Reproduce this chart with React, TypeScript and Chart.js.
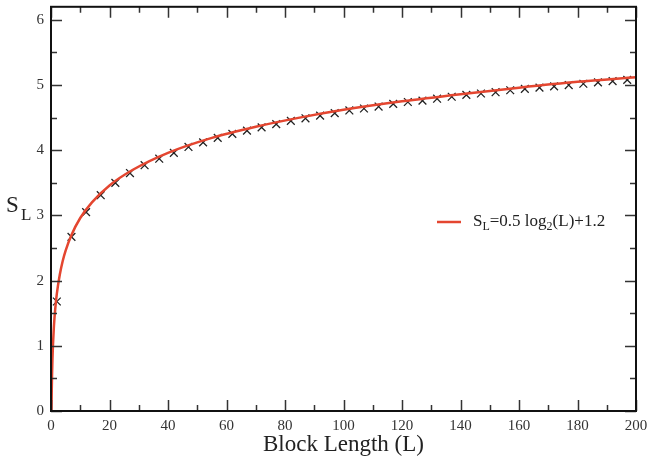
import React, { useEffect, useRef } from "react";
import { Chart, registerables } from "chart.js";

Chart.register(...registerables);

// Numerical data points (block length L, entropy S_L)
const markerL = [2, 7, 12, 17, 22, 27, 32, 37, 42, 47, 52, 57, 62, 67, 72, 77, 82, 87, 92, 97,
  102, 107, 112, 117, 122, 127, 132, 137, 142, 147, 152, 157, 162, 167, 172, 177, 182, 187, 192, 197];
const markerS = [1.68, 2.67, 3.05, 3.31, 3.5, 3.65, 3.77, 3.87, 3.96, 4.05, 4.12, 4.19, 4.25, 4.3, 4.35,
  4.4, 4.45, 4.49, 4.53, 4.57, 4.61, 4.64, 4.67, 4.71, 4.74, 4.76, 4.79, 4.82, 4.85, 4.87, 4.89, 4.92,
  4.94, 4.96, 4.98, 5.0, 5.02, 5.04, 5.06, 5.08];

// Fit curve
const curveL = [0.17, 0.25, 0.5, 1, 1.5, 2, 3, 4, 5, 7, 10, 14, 20, 28, 40, 55, 70, 85, 100, 120, 140, 160, 180, 200];
const curveS = [0.0, 0.3, 0.8, 1.3, 1.59, 1.8, 2.09, 2.3, 2.46, 2.7, 2.96, 3.2, 3.46, 3.7, 3.96, 4.19, 4.36,
  4.5, 4.62, 4.75, 4.86, 4.96, 5.05, 5.12];

const xTicks = [0, 20, 40, 60, 80, 100, 120, 140, 160, 180, 200];
const yTicks = [0, 1, 2, 3, 4, 5, 6];
const xMinorStep = 10;
const yMinorStep = 0.5;

const SERIF = "'Liberation Serif', 'DejaVu Serif', serif";
const RED = "rgb(228,70,48)";

const framePlugin = {
  id: "frame",
  afterDraw(chart: any) {
    const ctx = chart.ctx;
    const { left, right, top, bottom } = chart.chartArea;
    const xs = chart.scales.x;
    const ys = chart.scales.y;
    ctx.save();
    ctx.strokeStyle = "#333";
    ctx.lineWidth = 1.5;
    for (let v = xs.min; v <= xs.max + 1e-9; v += xMinorStep) {
      const px = Math.round(xs.getPixelForValue(v)) + 0.5;
      const len = xTicks.includes(v) ? 11 : 6;
      ctx.beginPath();
      ctx.moveTo(px, bottom);
      ctx.lineTo(px, bottom - len);
      ctx.moveTo(px, top);
      ctx.lineTo(px, top + len);
      ctx.stroke();
    }
    for (let v = 0; v <= 6 + 1e-9; v += yMinorStep) {
      const py = Math.round(ys.getPixelForValue(v)) + 0.5;
      const len = yTicks.includes(v) ? 11 : 6;
      ctx.beginPath();
      ctx.moveTo(left, py);
      ctx.lineTo(left + len, py);
      ctx.moveTo(right, py);
      ctx.lineTo(right - len, py);
      ctx.stroke();
    }
    ctx.strokeStyle = "#111";
    ctx.lineWidth = 2;
    ctx.strokeRect(left, top, right - left, bottom - top);

    // y axis title S_L
    ctx.fillStyle = "#222";
    ctx.textBaseline = "alphabetic";
    ctx.textAlign = "left";
    ctx.font = `23px ${SERIF}`;
    ctx.fillText("S", 6, 212);
    ctx.font = `17px ${SERIF}`;
    ctx.fillText("L", 21, 220);

    // legend
    const ly = 222;
    ctx.strokeStyle = RED;
    ctx.lineWidth = 2.5;
    ctx.beginPath();
    ctx.moveTo(437, ly);
    ctx.lineTo(461, ly);
    ctx.stroke();
    ctx.fillStyle = "#222";
    let x = 473;
    const base = 226;
    const big = `17px ${SERIF}`;
    const small = `12px ${SERIF}`;
    const parts: [string, string, number][] = [
      ["S", big, 0],
      ["L", small, 4],
      ["=0.5 log", big, 0],
      ["2", small, 4],
      ["(L)+1.2", big, 0],
    ];
    for (const [t, f, dy] of parts) {
      ctx.font = f;
      ctx.fillText(t, x, base + dy);
      x += ctx.measureText(t).width;
    }
    ctx.restore();
  },
};

export default function App() {
  const ref = useRef<HTMLCanvasElement | null>(null);
  useEffect(() => {
    document.body.style.margin = "0";
    const canvas = ref.current!;
    const chart = new Chart(canvas, {
      type: "scatter",
      data: {
        datasets: [
          {
            type: "line",
            label: "fit",
            data: curveL.map((l, i) => ({ x: l, y: curveS[i] })),
            borderColor: RED,
            borderWidth: 2.5,
            pointRadius: 0,
            cubicInterpolationMode: "monotone",
            fill: false,
          } as any,
          {
            label: "data",
            data: markerL.map((l, i) => ({ x: l, y: markerS[i] })),
            pointStyle: "crossRot",
            pointRadius: 5.5,
            borderColor: "#222",
            backgroundColor: "#222",
            borderWidth: 1.3,
            showLine: false,
          } as any,
        ],
      },
      options: {
        responsive: false,
        animation: false,
        events: [],
        layout: { padding: { left: 0, right: 12, top: 3, bottom: 0 } },
        plugins: { legend: { display: false }, tooltip: { enabled: false } },
        scales: {
          x: {
            type: "linear",
            min: 0,
            max: 200,
            grid: { display: false, drawTicks: false },
            border: { display: false },
            afterBuildTicks: (s: any) => {
              s.ticks = xTicks.map((v) => ({ value: v }));
            },
            afterFit: (s: any) => {
              s.height = 48;
              s.paddingLeft = 0;
              s.paddingRight = 0;
              s.paddingTop = 0;
              s.paddingBottom = 0;
            },
            ticks: { font: { family: SERIF, size: 15 }, color: "#333", padding: 6, maxRotation: 0, autoSkip: false },
            title: {
              display: true,
              text: "Block Length (L)",
              font: { family: SERIF, size: 23 },
              color: "#222",
              padding: { top: 0, bottom: 0 },
            },
          },
          y: {
            type: "linear",
            min: 0,
            max: 6.2,
            grid: { display: false, drawTicks: false },
            border: { display: false },
            afterBuildTicks: (s: any) => {
              s.ticks = yTicks.map((v) => ({ value: v }));
            },
            afterFit: (s: any) => {
              s.width = 51;
              s.paddingLeft = 0;
              s.paddingRight = 0;
              s.paddingTop = 0;
              s.paddingBottom = 0;
            },
            ticks: { font: { family: SERIF, size: 15 }, color: "#333", padding: 7 },
          },
        },
      },
      plugins: [framePlugin],
    });
    return () => chart.destroy();
  }, []);
  return (
    <div style={{ width: 648, height: 459 }}>
      <canvas ref={ref} width={648} height={459} style={{ display: "block" }} />
    </div>
  );
}
